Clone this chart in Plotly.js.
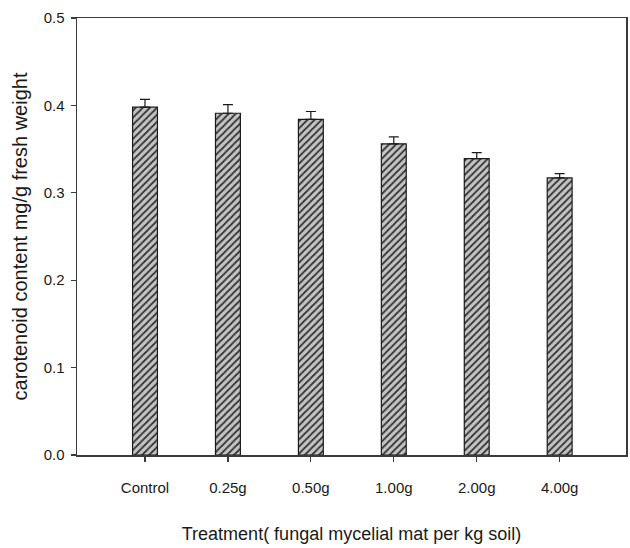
<!DOCTYPE html>
<html>
<head>
<meta charset="utf-8">
<script src="https://cdn.plot.ly/plotly-3.0.1.min.js"></script>
<style>html,body{margin:0;padding:0;background:#fff;}#chart{width:630px;height:548px;}</style>
</head>
<body>
<div id="chart"></div>
<script>
const categories = ["Control", "0.25g", "0.50g", "1.00g", "2.00g", "4.00g"];
const carotenoid = [0.398, 0.391, 0.384, 0.356, 0.339, 0.317];
const errorPlus = [0.009, 0.010, 0.009, 0.008, 0.007, 0.005];
const yTickVals = [0.0, 0.1, 0.2, 0.3, 0.4, 0.5];

const trace = {
  type: "bar",
  x: categories,
  y: carotenoid,
  width: 0.3,
  marker: {
    color: "#bcbcbc",
    line: {color: "#1a1a1a", width: 1.2},
    pattern: {shape: "/", fgcolor: "#333333", bgcolor: "#c4c4c4", size: 5, solidity: 0.35, fillmode: "replace"}
  },
  error_y: {
    type: "data", symmetric: false, array: errorPlus, arrayminus: errorPlus.map(() => 0),
    color: "#1a1a1a", thickness: 1.2, width: 5
  },
  hoverinfo: "none"
};

const layout = {
  width: 630, height: 548,
  margin: {l: 77, r: 4, t: 18, b: 93},
  paper_bgcolor: "#ffffff", plot_bgcolor: "#ffffff",
  showlegend: false,
  font: {family: "Liberation Sans, Arial, sans-serif", color: "#1a1a1a"},
  xaxis: {
    range: [-0.82, 5.8],
    showgrid: false, zeroline: false,
    showline: true, mirror: true, linecolor: "#3a3a3a", linewidth: 1.5,
    ticks: "outside", ticklen: 5, tickcolor: "#3a3a3a", tickwidth: 1.2,
    ticklabelstandoff: 13,
    tickfont: {size: 15, color: "#1a1a1a"},
    title: {text: "Treatment( fungal mycelial mat per kg soil)", font: {size: 18, color: "#1a1a1a"}, standoff: 33},
    automargin: false
  },
  yaxis: {
    range: [0, 0.5],
    tickvals: yTickVals, tickformat: ".1f",
    showgrid: false, zeroline: false,
    showline: true, mirror: true, linecolor: "#3a3a3a", linewidth: 1.5,
    ticks: "outside", ticklen: 5, tickcolor: "#3a3a3a", tickwidth: 1.2,
    ticklabelstandoff: 3,
    tickfont: {size: 15, color: "#1a1a1a"},
    title: {text: "carotenoid content mg/g fresh weight", font: {size: 20, color: "#1a1a1a"}, standoff: 10},
    automargin: false
  }
};

Plotly.newPlot("chart", [trace], layout, {displayModeBar: false, staticPlot: true});
</script>
</body>
</html>
